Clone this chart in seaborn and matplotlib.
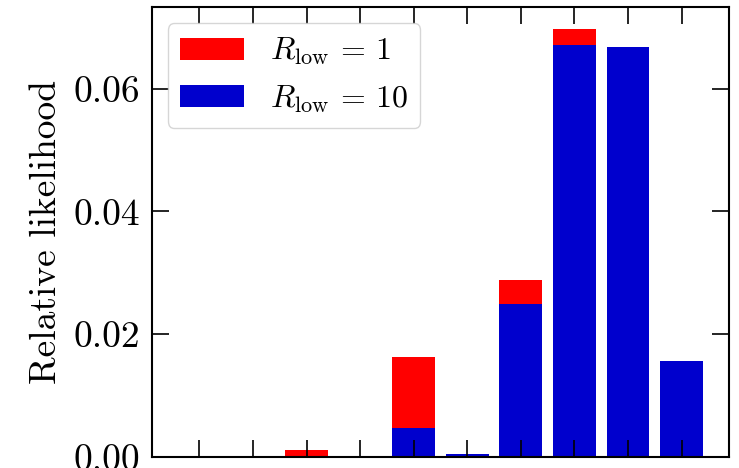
import matplotlib
matplotlib.use("Agg")
import matplotlib.pyplot as plt
import seaborn as sns
import pandas as pd

# Bins along the horizontal axis (labels fall below the visible area)
bins = ["1", "2", "3", "4", "5", "6", "7", "8", "9", "10"]

# Relative likelihood per bin for the two R_low settings
likelihood_rlow_1 = [0.0, 0.0, 0.0011, 0.0, 0.0162, 0.0003, 0.0289, 0.0697, 0.0668, 0.0155]
likelihood_rlow_10 = [0.0, 0.0, 0.0, 0.0, 0.0047, 0.0005, 0.0249, 0.0671, 0.0669, 0.0156]

label_1 = r"$R_{\rm low}\,{=}\,1$"
label_10 = r"$R_{\rm low}\,{=}\,10$"

sns.set_style("ticks")
plt.rcParams["font.family"] = ["cmr10", "DejaVu Serif"]
plt.rcParams["mathtext.fontset"] = "cm"
plt.rcParams["axes.formatter.use_mathtext"] = True
plt.rcParams["text.color"] = "black"
plt.rcParams["axes.labelcolor"] = "black"
plt.rcParams["xtick.color"] = "black"
plt.rcParams["ytick.color"] = "black"

fig = plt.figure(figsize=(7.39, 4.68), dpi=100)
W, H = 739, 468
left, right, top, bottom = 151.7, 729.3, 7.3, 456.7
ax = fig.add_axes([left / W, 1 - bottom / H, (right - left) / W, (bottom - top) / H])

df = pd.DataFrame({"bin": bins, "r1": likelihood_rlow_1, "r10": likelihood_rlow_10})

sns.barplot(data=df, x="bin", y="r1", color="#ff0000", saturation=1, width=0.8,
            linewidth=0, label=label_1, ax=ax)
sns.barplot(data=df, x="bin", y="r10", color="#0000cd", saturation=1, width=0.8,
            linewidth=0, label=label_10, ax=ax)

ax.set_axisbelow(False)
ax.set_xlabel("")
ax.set_ylabel("Relative likelihood", fontsize=27, labelpad=8)
ax.set_yticks([0.0, 0.02, 0.04, 0.06])
ax.set_yticklabels(["0.00", "0.02", "0.04", "0.06"])
ax.set_xticklabels([])
ax.set_xlim(-0.89, 9.89)
ax.set_ylim(0, 0.0733)

ax.tick_params(axis="both", which="both", direction="in", length=12, width=1.2,
               top=True, right=True, labelsize=27, pad=8, color="black",
               labelcolor="black")
for sp in ax.spines.values():
    sp.set_visible(True)
    sp.set_linewidth(1.5)
    sp.set_color("black")
    sp.set_zorder(5)

leg = ax.legend(loc="upper left", fontsize=23, frameon=True, fancybox=True,
                framealpha=0.8, edgecolor="#cccccc")
leg.set_zorder(10)

fig.savefig("out.png", dpi=100)
